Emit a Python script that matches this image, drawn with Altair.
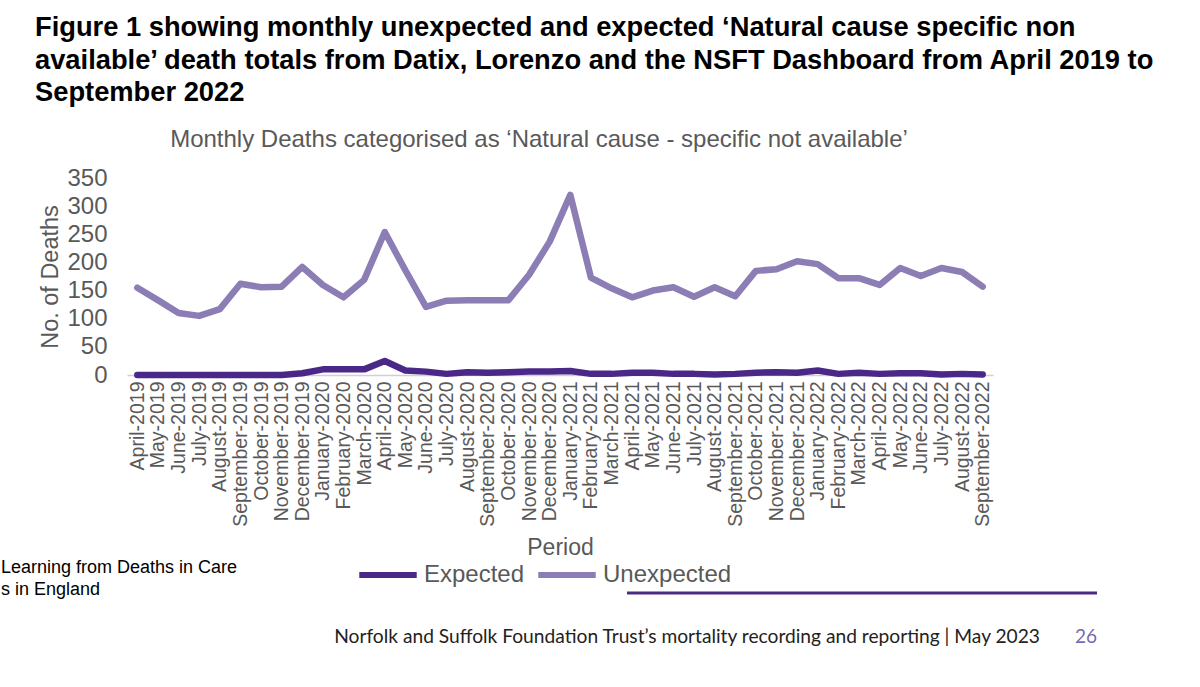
import altair as alt
import pandas as pd

# Monthly totals, April 2019 to September 2022
months = [
    "April-2019", "May-2019", "June-2019", "July-2019", "August-2019", "September-2019",
    "October-2019", "November-2019", "December-2019", "January-2020", "February-2020",
    "March-2020", "April-2020", "May-2020", "June-2020", "July-2020", "August-2020",
    "September-2020", "October-2020", "November-2020", "December-2020", "January-2021",
    "February-2021", "March-2021", "April-2021", "May-2021", "June-2021", "July-2021",
    "August-2021", "September-2021", "October-2021", "November-2021", "December-2021",
    "January-2022", "February-2022", "March-2022", "April-2022", "May-2022", "June-2022",
    "July-2022", "August-2022", "September-2022",
]
expected = [0, 0, 0, 0, 0, 0, 0, 0, 3, 10, 10, 10, 25, 8, 6, 2, 5, 4, 5, 6, 6, 7,
            2, 2, 4, 4, 2, 2, 1, 2, 4, 5, 4, 8, 2, 4, 2, 3, 3, 1, 2, 1]
unexpected = [155, 133, 110, 105, 117, 162, 156, 157, 192, 160, 138, 169, 254, 186,
              121, 132, 133, 133, 133, 178, 237, 320, 173, 154, 138, 150, 156, 139,
              156, 140, 185, 188, 202, 197, 172, 172, 160, 190, 176, 190, 183, 157]
y_ticks = [0, 50, 100, 150, 200, 250, 300, 350]
series = ["Expected", "Unexpected"]
series_colors = ["#4A2887", "#8C7DB5"]

headline = [
    "Figure 1 showing monthly unexpected and expected \u2018Natural cause specific non",
    "available\u2019 death totals from Datix, Lorenzo and the NSFT Dashboard from April 2019 to",
    "September 2022",
]
chart_title = "Monthly Deaths categorised as \u2018Natural cause - specific not available\u2019"
side_note = ["Learning from Deaths in Care", "s in England"]
footer = "Norfolk and Suffolk Foundation Trust\u2019s mortality recording and reporting | May 2023"
page_no = "26"

rows = []
for i, m in enumerate(months):
    rows.append({"Period": m, "Type": "Expected", "Deaths": expected[i]})
    rows.append({"Period": m, "Type": "Unexpected", "Deaths": unexpected[i]})
df = pd.DataFrame(rows)

GRAY = "#595959"
FONT = "Liberation Sans"

lines = alt.Chart(df).mark_line(strokeWidth=6.5, strokeCap="round", strokeJoin="round").encode(
    x=alt.X("Period:N", sort=months,
            scale=alt.Scale(type="point", padding=0.5),
            axis=alt.Axis(title="Period", labelAngle=-90, labelFontSize=19.5,
                          labelColor=GRAY, labelFont=FONT, labelPadding=6,
                          ticks=False, domainColor="#d0d0d0", domainWidth=1.5,
                          titleFontSize=23, titleColor=GRAY, titleFont=FONT,
                          titleFontWeight="normal", titlePadding=10, grid=False)),
    y=alt.Y("Deaths:Q", scale=alt.Scale(domain=[0, 350], nice=False),
            axis=alt.Axis(title="No. of Deaths", values=y_ticks, labelFontSize=24,
                          labelColor=GRAY, labelFont=FONT, labelPadding=20,
                          ticks=False, domain=False, grid=False,
                          titleFontSize=23.5, titleColor=GRAY, titleFont=FONT,
                          titleFontWeight="normal", titlePadding=4)),
    color=alt.Color("Type:N", scale=alt.Scale(domain=series, range=series_colors),
                    legend=alt.Legend(title=None, orient="none", legendX=229, legendY=365,
                                      direction="horizontal", symbolType="stroke",
                                      symbolStrokeWidth=6, symbolSize=3300,
                                      labelFontSize=24, labelColor=GRAY, labelFont=FONT,
                                      labelOffset=4, columnPadding=1)),
)

one = alt.Data(values=[{}])

head = alt.Chart(one).mark_text(
    text=headline, align="left", baseline="middle", fontSize=27.3, fontWeight="bold",
    font=FONT, color="#000000", lineHeight=32.5,
).encode(x=alt.value(-92), y=alt.value(-150))

sub = alt.Chart(one).mark_text(
    text=chart_title, align="center", baseline="middle", fontSize=24,
    font=FONT, color=GRAY,
).encode(x=alt.value(412), y=alt.value(-38))

note = alt.Chart(one).mark_text(
    text=side_note, align="left", baseline="middle", fontSize=18,
    font=FONT, color="#000000", lineHeight=22,
).encode(x=alt.value(-126), y=alt.value(390))

bar = alt.Chart(one).mark_rule(color="#4B2C83", strokeWidth=3).encode(
    x=alt.value(500), x2=alt.value(970), y=alt.value(415))

foot = alt.Chart(one).mark_text(
    text=footer, align="right", baseline="middle", fontSize=19.2,
    font="Lato", color="#222222",
).encode(x=alt.value(913), y=alt.value(459))

page = alt.Chart(one).mark_text(
    text=page_no, align="left", baseline="middle", fontSize=19,
    font="Lato", color="#7B68AE",
).encode(x=alt.value(948), y=alt.value(459))

chart = alt.layer(lines, head, sub, note, bar, foot, page).properties(
    width=866, height=197,
    padding={"left": 127, "top": 178, "right": 207, "bottom": 312},
    autosize=alt.AutoSizeParams(type="none"),
    background="white",
).configure_view(stroke=None)

chart.save("out.html", embed_options={"renderer": "svg", "actions": False})
